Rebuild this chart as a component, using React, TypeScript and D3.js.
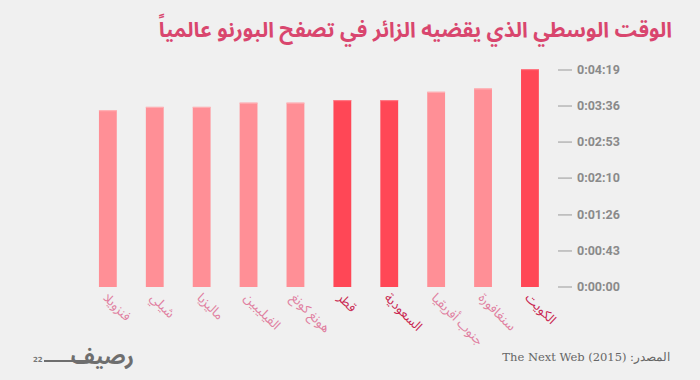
import React from "react";
import * as d3 from "d3";

const countries = ["فنزويلا", "شيلي", "ماليزيا", "الفيليبين", "هونغ كونغ", "قطر", "السعودية", "جنوب أفريقيا", "سنغافورة", "الكويت"];
const seconds = [211, 215, 215, 220, 220, 223, 223, 233, 237, 260];
const highlight = [false, false, false, false, false, true, true, false, false, true];
const tickValues = [0, 43, 86, 130, 173, 216, 259];
const tickLabels = ["0:00:00", "0:00:43", "0:01:26", "0:02:10", "0:02:53", "0:03:36", "0:04:19"];

const W = 700;
const H = 380;
const arabicFont = "'Noto Sans Arabic', 'DejaVu Sans', sans-serif";

export default function App() {
  const x = d3.scaleBand<string>().domain(countries).range([75.5, 562.3]).paddingInner(0.62).paddingOuter(0.5);
  const y = d3.scaleLinear().domain([0, 259]).range([287, 70]);
  return (
    <svg width={W} height={H} style={{ position: "absolute", left: 0, top: 0, background: "#f0f0f0" }}>
      <rect x={0} y={0} width={W} height={H} fill="#f0f0f0" />
      <text x={672} y={37} textAnchor="start" fontFamily={arabicFont} fontSize={21} fontWeight="bold" fill="#d9466e" direction="rtl">
        الوقت الوسطي الذي يقضيه الزائر في تصفح البورنو عالمياً
      </text>
      {countries.map((c, i) => (
        <g key={c}>
          <rect x={x(c)} y={y(seconds[i])} width={x.bandwidth()} height={y(0) - y(seconds[i])} fill={highlight[i] ? "#ff4756" : "#ff8f96"} />
          <rect x={x(c)} y={y(seconds[i])} width={x.bandwidth()} height={1} fill={highlight[i] ? "#ff7d88" : "#ffb3b7"} />
        </g>
      ))}
      {countries.map((c, i) => (
        <text
          key={"l" + c}
          transform={`translate(${(x(c) as number) + 6},${296}) rotate(45)`}
          textAnchor="start"
          dominantBaseline="middle"
          fontFamily={arabicFont}
          fontSize={13}
          fill={highlight[i] ? "#c9254f" : "#e07fa0"}
        >
          {c}
        </text>
      ))}
      {tickValues.map((v, i) => (
        <g key={"t" + v}>
          <line x1={558} x2={572} y1={y(v)} y2={y(v)} stroke="#9a9a9a" strokeWidth={1} />
          <text x={577} y={y(v)} dy="0.35em" fontFamily="Roboto, 'DejaVu Sans', sans-serif" fontSize={12.5} fontWeight="bold" fill="#8a8a8a">
            {tickLabels[i]}
          </text>
        </g>
      ))}
      <text x={33} y={362} fontFamily="'DejaVu Sans', sans-serif" fontSize={7} fontWeight="bold" fill="#777">22</text>
      <line x1={44} x2={92} y1={361} y2={361} stroke="#6e6e6e" strokeWidth={2} />
      <text x={134} y={364} textAnchor="start" fontFamily={arabicFont} fontSize={22} fontWeight="bold" fill="#6e6e6e" direction="rtl">رصيف</text>
      <text x={670} y={361} textAnchor="start" fontFamily="'DejaVu Serif', 'Liberation Serif', serif" fontSize={11.5} fill="#666" direction="rtl">
        المصدر: The Next Web (2015)
      </text>
    </svg>
  );
}
